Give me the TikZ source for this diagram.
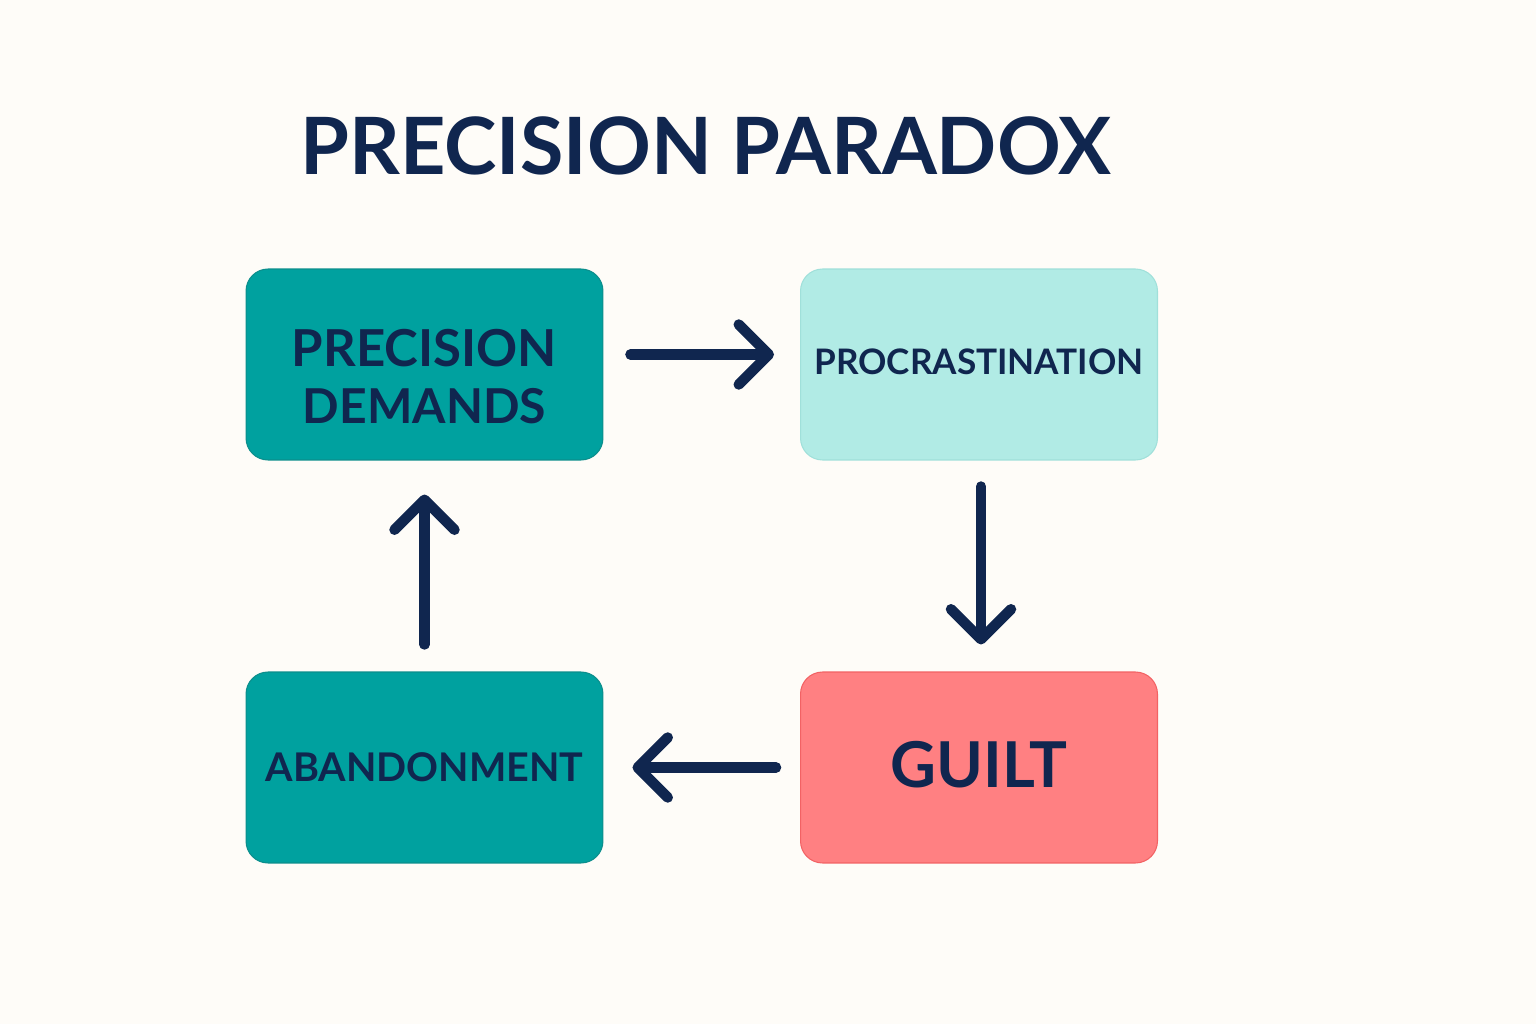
\documentclass[tikz,border=0pt]{standalone}
\usepackage{fontspec}
\setmainfont{Lato}
\usetikzlibrary{arrows.meta}
\definecolor{bgc}{HTML}{FEFCF8}
\definecolor{navy}{HTML}{10264F}
\definecolor{tealc}{HTML}{00A19F}
\definecolor{tealb}{HTML}{0C8E8C}
\definecolor{lightc}{HTML}{B1EBE5}
\definecolor{lightb}{HTML}{A0E0DA}
\definecolor{guiltc}{HTML}{FF8082}
\definecolor{guiltb}{HTML}{F26264}
\tikzset{
  box/.style={rounded corners=0.44cm, minimum width=7.14cm, minimum height=3.82cm, inner sep=0pt, align=center, text=navy, font=\bfseries, line width=0.6pt},
  arr/.style={draw=navy, line width=0.21cm, line cap=round,
    -{Straight Barb[length=0.6cm, width=1.2cm, round, line width=0.21cm]}},
}
\begin{document}
\begin{tikzpicture}[x=0.02cm, y=-0.02cm]
\fill[bgc] (0,0) rectangle (1536,1024);
\useasboundingbox (0,0) rectangle (1536,1024);
\node[text=navy, font=\fontsize{45}{50}\selectfont\bfseries] (title) at (706,146) {PRECISION PARADOX};
\node[box, fill=tealc, draw=tealb, font=\fontsize{30}{34}\selectfont\bfseries] (pd) at (424.5,364.5) {\raisebox{-0.59cm}[1cm][1cm]{\setlength{\tabcolsep}{0pt}\begin{tabular}{c}\resizebox{265\dimexpr0.02cm\relax}{!}{PRECISION}\\[-2pt]\resizebox{243\dimexpr0.02cm\relax}{!}{DEMANDS}\end{tabular}}};
\node[box, fill=lightc, draw=lightb, font=\fontsize{20}{24}\selectfont\bfseries] (pro) at (979,364.5) {\raisebox{3pt}{PROCRASTINATION}};
\node[box, fill=guiltc, draw=guiltb, font=\fontsize{36}{40}\selectfont\bfseries] (gu) at (979,767.5) {\raisebox{3pt}{GUILT}};
\node[box, fill=tealc, draw=tealb, font=\fontsize{22.5}{28}\selectfont\bfseries] (ab) at (424.5,767.5) {\raisebox{1pt}{ABANDONMENT}};
\draw[arr, shorten <=27*0.02cm, shorten >=26*0.02cm] ([yshift=0.2cm]pd.east) -- ([yshift=0.2cm]pro.west);
\draw[arr, shorten <=26*0.02cm, shorten >=27*0.02cm] ([xshift=0.04cm]pro.south) -- ([xshift=0.04cm]gu.north);
\draw[arr, shorten <=24*0.02cm, shorten >=29*0.02cm] (gu.west) -- (ab.east);
\draw[arr, shorten <=27*0.02cm, shorten >=34*0.02cm] (ab.north) -- (pd.south);
\end{tikzpicture}
\end{document}
